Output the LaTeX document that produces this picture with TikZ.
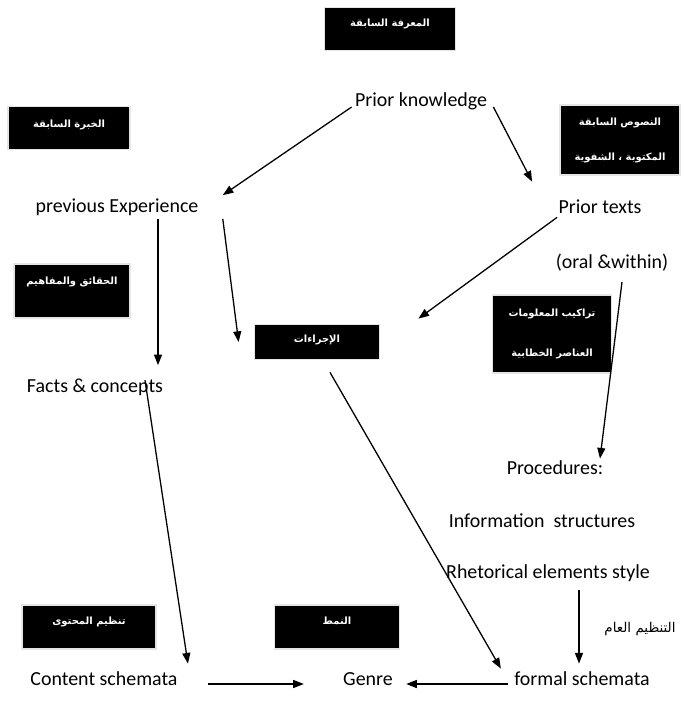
\documentclass[tikz,border=0pt]{standalone}
\usepackage{fontspec}
\setmainfont{Carlito}
\newfontfamily\arabicfont[Script=Arabic]{DejaVu Sans}
\TeXXeTstate=1
\usetikzlibrary{arrows.meta, positioning, calc}
\newcommand{\arb}[1]{{\arabicfont\beginR #1\endR}}

\begin{document}
\begin{tikzpicture}[
    x=0.03cm, y=-0.03cm,
    blackbox/.style={fill=black, draw=gray!20, line width=1.5pt, text=white,
      align=center, inner sep=0pt, font=\fontsize{8.5}{10}\selectfont\bfseries},
    txt/.style={inner sep=1pt, font=\fontsize{17}{20}\selectfont},
    arabtxt/.style={inner sep=1pt, font=\fontsize{11.5}{13}\selectfont},
    arrow/.style={-{Triangle[length=3.2mm, width=2.4mm]}, line width=1.1pt}
  ]
    \useasboundingbox[fill=white] (0,0) rectangle (684,706);

    % black boxes
    \node[blackbox, minimum width=3.93cm, minimum height=1.29cm, text depth=10pt] (prevknow) at (390,29) {\arb{المعرفة السابقة}};
    \node[blackbox, minimum width=3.66cm, minimum height=1.29cm, text depth=8pt] (prevexp) at (69,128) {\arb{الخبرة السابقة}};
    \node[blackbox, minimum width=3.6cm, minimum height=2.1cm] (prevtxt) at (620,140) {\arb{النصوص السابقة}\\[0.7cm]\arb{المكتوبة ، الشفوية}};
    \node[blackbox, minimum width=3.5cm, minimum height=1.6cm, text depth=17pt] (facts) at (72,291) {\arb{الحقائق والمفاهيم}};
    \node[blackbox, minimum width=3.57cm, minimum height=2.34cm] (infostr) at (552,334) {\arb{تراكيب المعلومات}\\[0.85cm]\arb{العناصر الخطابية}};
    \node[blackbox, minimum width=3.75cm, minimum height=1.05cm, text depth=6pt] (proced) at (317,342) {\arb{الإجراءات}};
    \node[blackbox, minimum width=4cm, minimum height=1.32cm, text depth=10pt] (content) at (89,627) {\arb{تنظيم المحتوى}};
    \node[blackbox, minimum width=3.75cm, minimum height=1.32cm, text depth=11pt] (pattern) at (337,627) {\arb{النمط}};

    % english labels
    \node[txt] (pk) at (421,101) {Prior knowledge};
    \node[txt] (pe) at (117,207) {previous Experience};
    \node[txt] (pt) at (600,207) {Prior texts};
    \node[txt] (ow) at (612,263) {(oral \&within)};
    \node[txt] (fc) at (95,387) {Facts \& concepts};
    \node[txt] (proc) at (555,468) {Procedures:};
    \node[txt] (info) at (542,521) {Information\ \ structures};
    \node[txt] (rhet) at (548,573) {Rhetorical elements style};
    \node[arabtxt] (general) at (640,629) {\arb{التنظيم العام}};
    \node[txt] (cs) at (104,679) {Content schemata};
    \node[txt] (genre) at (368,679) {Genre};
    \node[txt] (fs) at (582,679) {formal schemata};

    \draw[arrow] ($(pk.south west)+(-2,-4)$) -- ($(pe.north east)+(23,-2)$);
    \draw[arrow] ($(pk.south east)+(5,-4)$) -- ($(pt.north west)+(-25,-17)$);
    \draw[arrow] ($(pe.south)+(41,2)$) -- ($(fc.north)+(63,-12)$);
    \draw[arrow] ($(pe.south east)+(23,2)$) -- ($(proced.west)+(-15,0)$);
    \draw[arrow] ($(pt.south west)+(0,2)$) -- ($(proced.north east)+(38,-5)$);
    \draw[arrow] ($(ow.south)+(10,9)$) -- ($(proc.north)+(45,-1)$);
    \draw[arrow] ($(fc.north)+(50,3)$) -- ($(cs.north east)+(9,-7)$);
    \draw[arrow] ($(proced.south)+(13,12)$) -- ($(fs.north west)+(-12,-2)$);
    \draw[arrow] ($(rhet.south)+(31,7)$) -- ($(fs.north)+(-3,-7)$);
    \draw[arrow] ($(cs.east)+(29,5)$) -- ($(genre.west)+(-38,5)$);
    \draw[arrow] ($(fs.west)+(-5,5)$) -- ($(genre.east)+(12,5)$);
  \end{tikzpicture}
\end{document}
